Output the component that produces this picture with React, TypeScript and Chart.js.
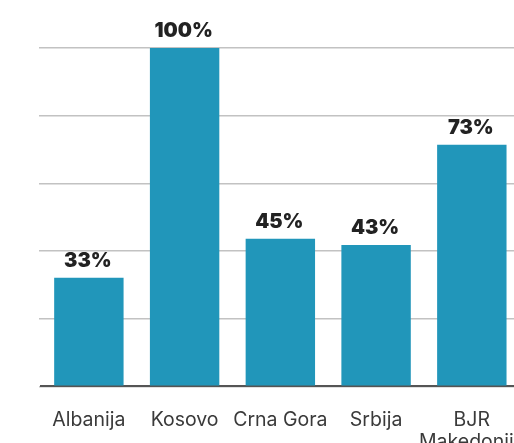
import React, { useEffect, useRef } from "react";
import { Chart, registerables } from "chart.js";

Chart.register(...registerables);

const categories: (string | string[])[] = ["Albanija", "Kosovo", "Crna Gora", "Srbija", ["BJR", "Makedonija"]];
const values: number[] = [32.1, 100, 43.6, 41.8, 71.4];
const valueLabels: string[] = ["33%", "100%", "45%", "43%", "73%"];
const yTicks: number[] = [0, 20, 40, 60, 80, 100];

const valueLabelPlugin = {
  id: "valueLabels",
  afterDatasetsDraw(chart: any) {
    const ctx = chart.ctx;
    const meta = chart.getDatasetMeta(0);
    ctx.save();
    ctx.font = "900 20px Inter";
    ctx.fillStyle = "#222222";
    ctx.textAlign = "center";
    ctx.textBaseline = "bottom";
    meta.data.forEach((bar: any, i: number) => {
      ctx.fillText(valueLabels[i], bar.x - 1, bar.y - 7);
    });
    ctx.restore();
  },
};

export default function App() {
  const ref = useRef<HTMLCanvasElement | null>(null);
  useEffect(() => {
    if (!ref.current) return;
    const chart = new Chart(ref.current, {
      type: "bar",
      data: {
        labels: categories as any,
        datasets: [
          {
            data: values,
            backgroundColor: "#2196ba",
            borderWidth: 0,
            categoryPercentage: 1,
            barPercentage: 0.725,
          },
        ],
      },
      options: {
        animation: false,
        responsive: false,
        maintainAspectRatio: false,
        layout: { autoPadding: false, padding: { left: 39, right: 3, top: 48, bottom: 0 } },
        plugins: {
          legend: { display: false },
          tooltip: { enabled: false },
        },
        scales: {
          x: {
            grid: { display: false, drawTicks: false },
            border: { display: true, color: "#555555", width: 2 },
            ticks: {
              color: "#3a3a3a",
              font: { family: "Inter", size: 19.5, lineHeight: 1.12 },
              padding: 23,
              maxRotation: 0,
              autoSkip: false,
            },
          },
          y: {
            min: yTicks[0],
            max: yTicks[yTicks.length - 1],
            afterBuildTicks: (axis: any) => {
              axis.ticks = yTicks.map((v) => ({ value: v }));
            },
            grid: { color: "#c2c2c2", lineWidth: 1.5, drawTicks: true, tickLength: 2 },
            border: { display: false },
            ticks: { display: false },
          },
        },
      },
      plugins: [valueLabelPlugin],
    });
    return () => chart.destroy();
  }, []);
  return (
    <div style={{ position: "fixed", left: 0, top: 0, width: 514, height: 443, overflow: "hidden", background: "#fff" }}>
      <canvas ref={ref} width={548} height={476} style={{ width: 548, height: 476, display: "block" }} />
    </div>
  );
}
